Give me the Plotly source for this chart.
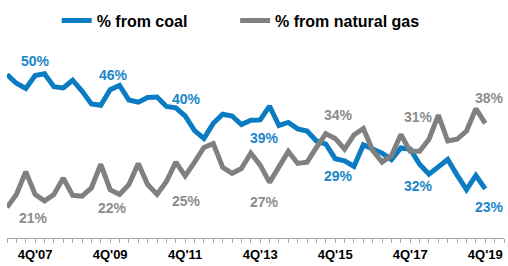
import plotly.graph_objects as go

years = ["07", "08", "09", "10", "11", "12", "13", "14", "15", "16", "17", "18", "19"]
quarters = [f"{q}Q'{y}" for y in years for q in (1, 2, 3, 4)]

coal = [49.4, 47.4, 46.2, 49.2, 49.6, 46.6, 46.3, 48.1, 45.6, 42.6, 42.3, 45.9,
        46.9, 43.5, 43.0, 44.1, 44.2, 42.0, 41.7, 39.8, 36.4, 34.6, 38.1, 40.2,
        39.8, 37.8, 38.8, 38.9, 42.1, 37.6, 38.3, 36.8, 36.3, 34.0, 33.3, 29.9,
        29.4, 28.1, 33.1, 32.1, 31.2, 29.7, 32.4, 32.1, 28.6, 26.3, 28.1, 29.7,
        26.1, 22.7, 26.0, 22.9]
gas = [18.6, 21.6, 26.9, 21.6, 20.1, 21.6, 25.4, 21.4, 21.2, 23.1, 28.6, 22.7,
       21.6, 23.9, 28.8, 23.9, 21.6, 24.6, 29.1, 25.9, 29.1, 32.5, 33.4, 27.9,
       26.5, 27.6, 31.2, 28.4, 24.4, 28.0, 31.6, 28.8, 29.1, 32.5, 35.7, 34.6,
       32.1, 35.4, 36.9, 31.8, 29.1, 30.6, 35.5, 31.6, 31.6, 34.4, 40.0, 34.0,
       34.4, 36.3, 41.5, 38.1]

label_quarters = ["4Q'07", "4Q'09", "4Q'11", "4Q'13", "4Q'15", "4Q'17", "4Q'19"]
coal_labels = ["50%", "46%", "40%", "39%", "29%", "32%", "23%"]
gas_labels = ["21%", "22%", "25%", "27%", "34%", "31%", "38%"]

COAL = "#0b7cc1"
GAS = "#808080"
FONT = "Liberation Sans, Arial, sans-serif"

x = list(range(len(quarters)))

fig = go.Figure()
fig.add_trace(go.Scatter(x=x, y=coal, mode="lines", name="% from coal",
                         line=dict(color=COAL, width=5), legend="legend"))
fig.add_trace(go.Scatter(x=x, y=gas, mode="lines", name="% from natural gas",
                         line=dict(color=GAS, width=5), legend="legend2"))

# label placement relative to its quarter index / value scale
coal_pos = [(0.0, 52.5), (0.4, 49.3), (0.1, 43.7), (0.5, 34.7), (0.3, 25.9), (0.9, 23.6), (0.4, 18.7)]
gas_pos = [(-0.2, 16.2), (0.3, 18.5), (0.1, 20.0), (0.5, 19.8), (0.3, 40.1), (0.9, 39.6), (0.4, 43.9)]

for lq, t, (dx, yv) in zip(label_quarters, coal_labels, coal_pos):
    fig.add_annotation(x=quarters.index(lq) + dx, y=yv, text=t, showarrow=False,
                       xref="x", yref="y",
                       font=dict(family=FONT, size=14, color="#1a86c8", weight="bold"))
for lq, t, (dx, yv) in zip(label_quarters, gas_labels, gas_pos):
    fig.add_annotation(x=quarters.index(lq) + dx, y=yv, text=t, showarrow=False,
                       xref="x", yref="y",
                       font=dict(family=FONT, size=14, color="#8c8c8c", weight="bold"))

tickvals = list(range(len(quarters) + 2))
ticktext = [(quarters[i] if i < len(quarters) and quarters[i] in label_quarters else "")
            for i in tickvals]

legend_font = dict(family=FONT, size=16, color="black", weight="bold")

fig.update_layout(
    width=508, height=266,
    margin=dict(l=7, r=4, t=40, b=26),
    paper_bgcolor="white", plot_bgcolor="white",
    font=dict(family=FONT, size=13, color="black"),
    showlegend=True,
    legend=dict(orientation="h", x=0.1, xanchor="left", y=1.12, yanchor="middle",
                font=legend_font, bgcolor="rgba(0,0,0,0)"),
    legend2=dict(orientation="h", x=0.459, xanchor="left", y=1.12, yanchor="middle",
                 font=legend_font, bgcolor="rgba(0,0,0,0)"),
    xaxis=dict(range=[0, 53], showgrid=False, zeroline=False,
               showline=True, linecolor="#a6a6a6", linewidth=1,
               ticks="outside", ticklen=4, tickcolor="#a6a6a6", tickwidth=1,
               tickmode="array", tickvals=tickvals, ticktext=ticktext,
               tickfont=dict(family=FONT, size=13, color="black", weight="bold"),
               fixedrange=True),
    yaxis=dict(range=[11.5, 56.5], visible=False, fixedrange=True),
)

fig.write_html("out.html", config={"displayModeBar": False},
               post_script="document.body.style.margin='0px';")
